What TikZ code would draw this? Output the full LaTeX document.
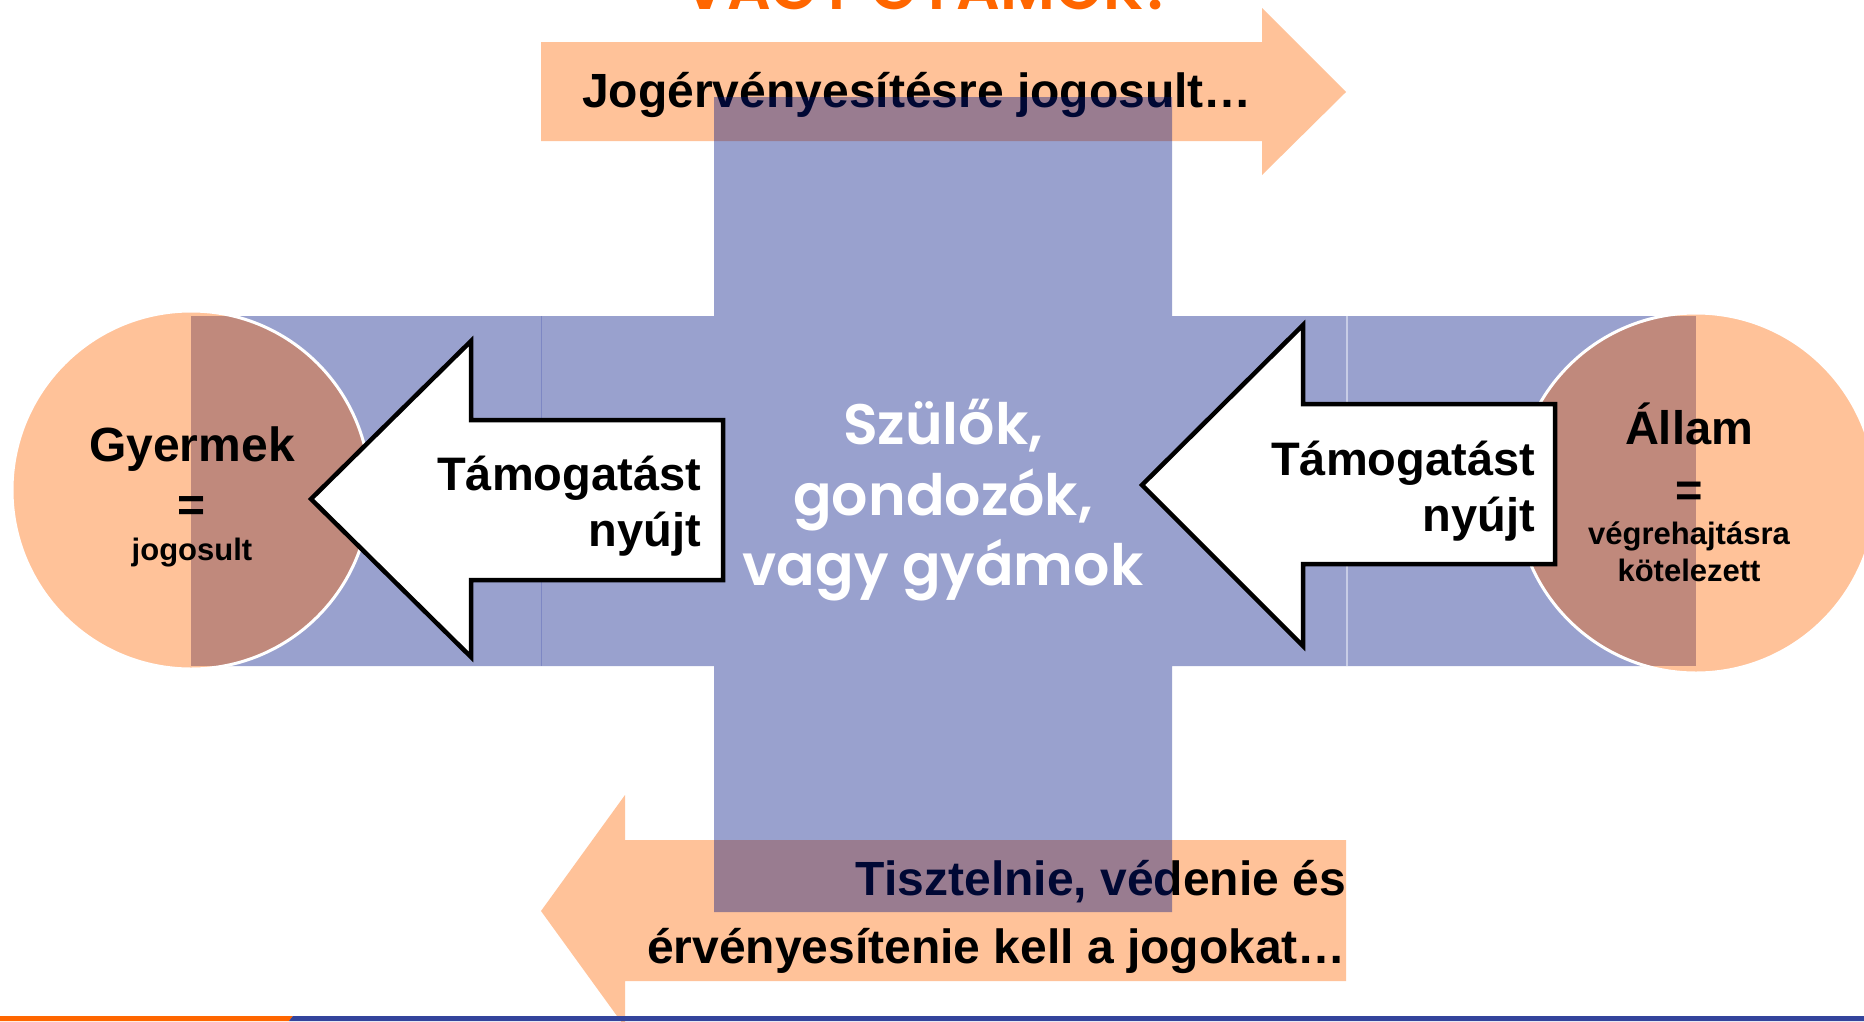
\documentclass[tikz,border=0pt]{standalone}
\usepackage{fontspec}
\setmainfont{Liberation Sans}
\newfontfamily\geofont{Poppins SemiBold}
\definecolor{peach}{RGB}{255,194,153}
\definecolor{veil}{RGB}{0,20,132}
\definecolor{rosebrown}{RGB}{192,137,124}
\definecolor{titleorange}{RGB}{255,102,0}
\definecolor{barblue}{RGB}{51,68,156}
\definecolor{divdark}{RGB}{125,135,195}
\definecolor{divlight}{RGB}{200,205,230}
\newcommand{\stackC}[1]{\vtop{\baselineskip=0pt\lineskip=0pt\lineskiplimit=-5000pt\halign{\hfil##\hfil\cr#1\crcr}}}
\newcommand{\stackR}[1]{\vtop{\baselineskip=0pt\lineskip=0pt\lineskiplimit=-5000pt\halign{\hfil##\cr#1\crcr}}}
\tikzset{
  lbl/.style={inner sep=0pt, outer sep=0pt},
  bigsans/.style={lbl, font={\bfseries\fontsize{47}{47}\selectfont}},
  geotext/.style={lbl, font={\geofont\fontsize{57}{57}\selectfont}},
  whitearrow/.style={draw=black, fill=white, line width=4.5pt, line join=miter},
  peacharrow/.style={fill=peach},
  circleedge/.style={draw=white, line width=3pt}
}
\begin{document}
\begin{tikzpicture}[x=1pt,y=-1pt]
\useasboundingbox (0,0) rectangle (1864,1021);

% title (cut off at the top, as in the reference)
\node[lbl, anchor=base, text=titleorange, font={\geofont\fontsize{61}{61}\selectfont}] (title) at (930,9.5) {VAGY GYÁMOK?};

% top arrow
\fill[peacharrow] (541,42) -- (1262,42) -- (1262,8) -- (1346,92) -- (1262,175) -- (1262,141) -- (541,141) -- cycle;
\node[bigsans, anchor=base, font={\bfseries\fontsize{48}{48}\selectfont}] (jog) at (917,107) {Jogérvényesítésre jogosult…};

% bottom arrow
\fill[peacharrow] (1346,840) -- (625,840) -- (625,795) -- (541,911) -- (625,1027) -- (625,981) -- (1346,981) -- cycle;
\node[bigsans, anchor=base east, font={\bfseries\fontsize{48}{48}\selectfont}] (tisz) at (1346,895)
  {\stackR{Tisztelnie, védenie és\cr\noalign{\kern68pt}érvényesítenie kell a jogokat…\cr}};

% translucent cross
\fill[veil, fill opacity=0.4] (714,97) rectangle (1172,912) (193,316) rectangle (1696,666);
\draw[divdark, line width=1pt] (541,316) -- (541,666);
\draw[divlight, line width=1.2pt] (1347,316) -- (1347,666);

% left circle
\fill[peach] (191,490) circle (179);
\begin{scope}
  \clip (191,490) circle (179);
  \fill[rosebrown] (191,316) rectangle (400,666);
\end{scope}
\draw[circleedge] (191,490) circle (179);
\node[bigsans, anchor=base, font={\bfseries\fontsize{48}{48}\selectfont}] (gyer) at (192,461)
  {\stackC{Gyermek\cr\noalign{\kern60pt}=\cr\noalign{\kern39pt}{\fontsize{31}{31}\selectfont jogosult}\cr}};

% right circle
\fill[peach] (1696,493) circle (180);
\begin{scope}
  \clip (1696,493) circle (180);
  \fill[rosebrown] (1500,316) rectangle (1696,666);
\end{scope}
\draw[circleedge] (1696,493) circle (180);
\node[bigsans, anchor=base] (allam) at (1689,444)
  {\stackC{Állam\cr\noalign{\kern62pt}=\cr\noalign{\kern38pt}{\fontsize{31}{31}\selectfont végrehajtásra}\cr\noalign{\kern37pt}{\fontsize{31}{31}\selectfont kötelezett}\cr}};

% white arrows
\draw[whitearrow] (311,499) -- (471,341) -- (471,420) -- (723,420) -- (723,580) -- (471,580) -- (471,657) -- cycle;
\node[bigsans, anchor=base east] (tamL) at (701,490) {\stackR{Támogatást\cr\noalign{\kern56pt}nyújt\cr}};
\draw[whitearrow] (1142,485) -- (1303,325) -- (1303,404) -- (1555,404) -- (1555,564) -- (1303,564) -- (1303,646) -- cycle;
\node[bigsans, anchor=base east] (tamR) at (1535,475) {\stackR{Támogatást\cr\noalign{\kern56pt}nyújt\cr}};

% central text
\node[geotext, anchor=base, text=white] (szul) at (943,444)
  {\stackC{Szülők,\cr\noalign{\kern71pt}gondozók,\cr\noalign{\kern70pt}vagy gyámok\cr}};

% bottom bar
\fill[titleorange] (0,1016) -- (293,1016) -- (289,1021) -- (0,1021) -- cycle;
\fill[barblue] (293,1016) -- (1864,1016) -- (1864,1021) -- (289,1021) -- cycle;
\end{tikzpicture}
\end{document}
